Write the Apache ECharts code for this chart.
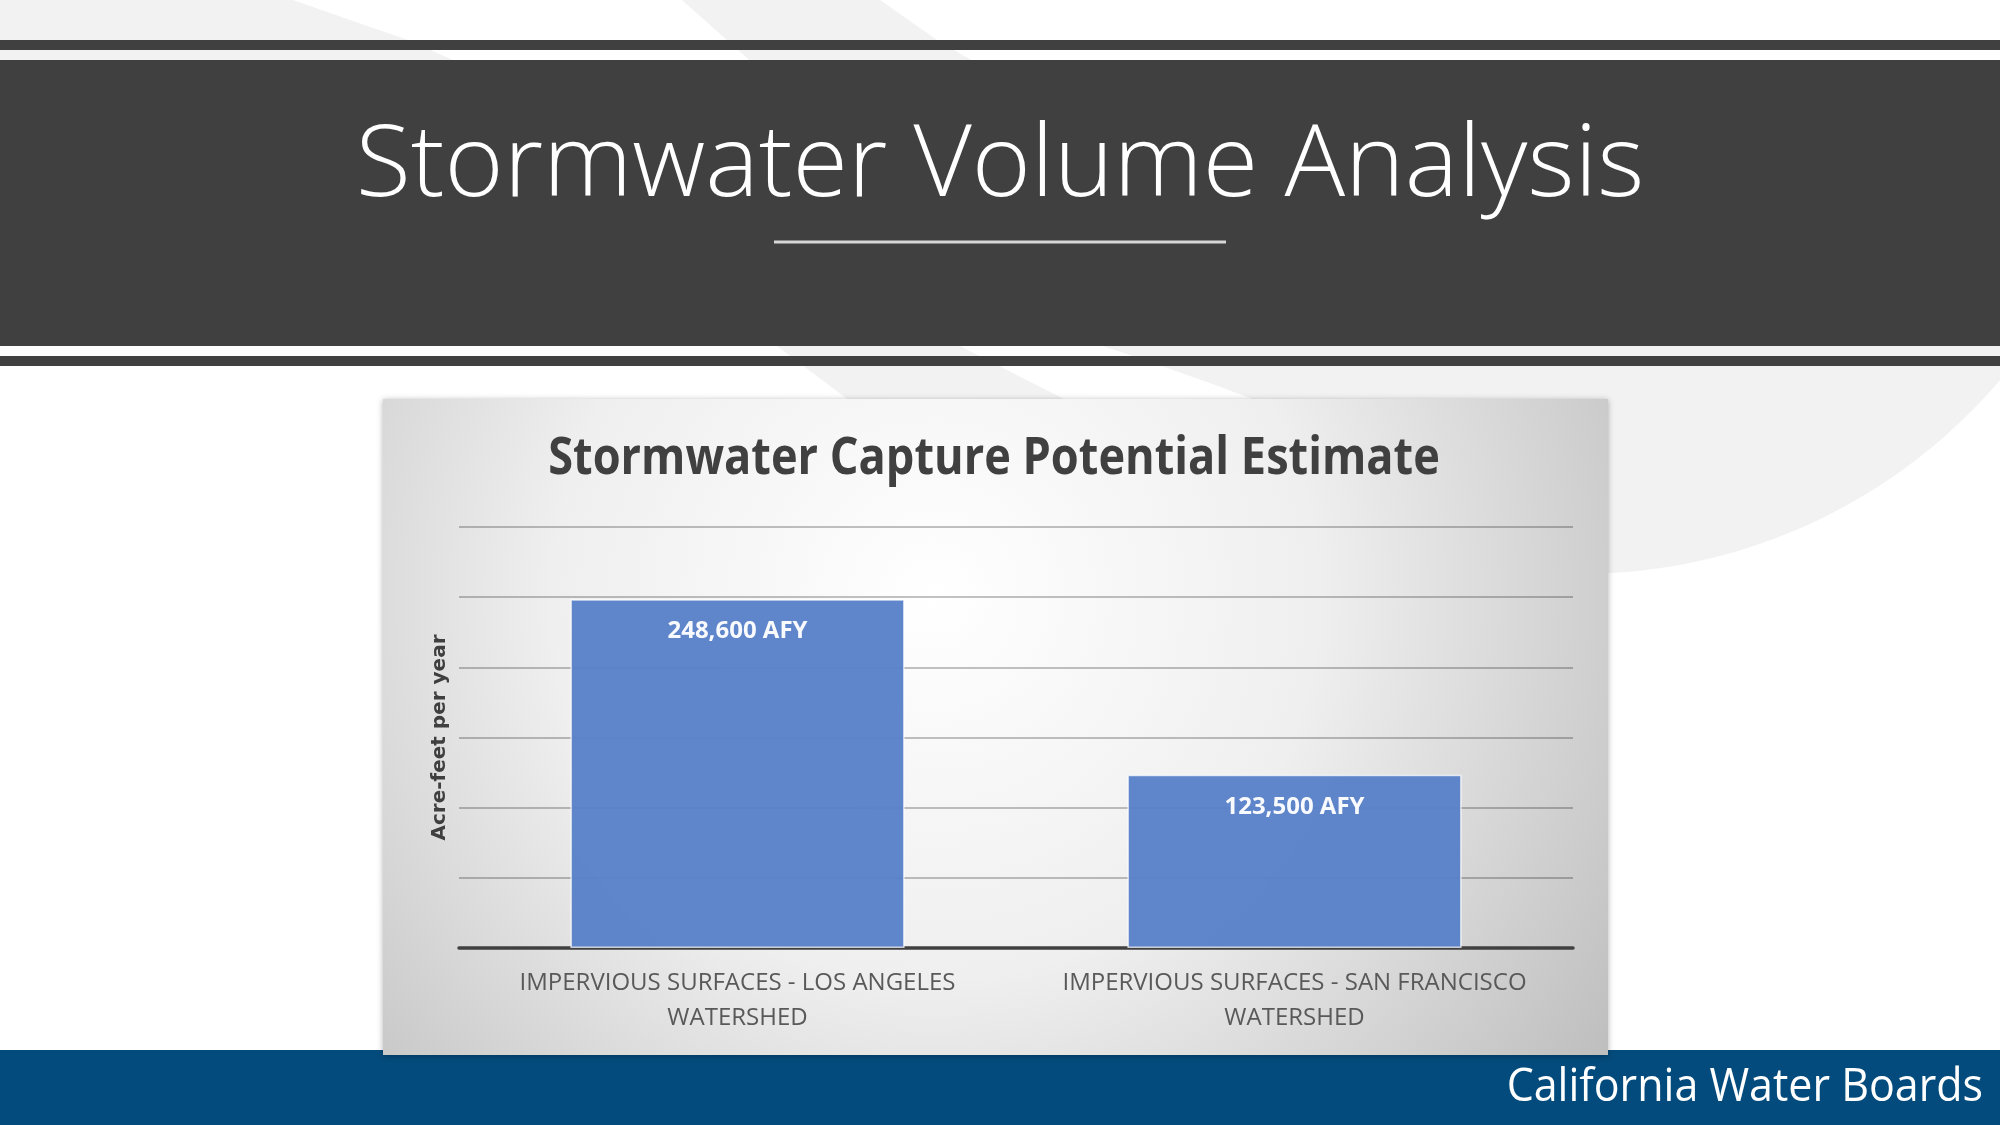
<!DOCTYPE html>
<html>
<head>
<meta charset="utf-8">
<script src="https://cdn.jsdelivr.net/npm/echarts@6/dist/echarts.min.js"></script>
<style>
  html, body { margin: 0; padding: 0; background: #ffffff; }
  #chart { width: 2000px; height: 1125px; }
</style>
</head>
<body>
<div id="chart"></div>
<script>
// ---- data ----
const slideTitle = 'Stormwater Volume Analysis';
const chartTitle = 'Stormwater Capture Potential Estimate';
const footerText = 'California Water Boards';
const yAxisName = 'Acre-feet per year';
const categories = [
  'IMPERVIOUS SURFACES - LOS ANGELES\nWATERSHED',
  'IMPERVIOUS SURFACES - SAN FRANCISCO\nWATERSHED'
];
const capturePotential = [248600, 123500];
const valueUnit = 'AFY';
const yMin = 0;
const yMax = 300000;
const yInterval = 50000;

const chart = echarts.init(document.getElementById('chart'), null, { renderer: 'canvas' });

const decorGray = '#f2f2f2';
const bandColor = '#404040';

// background crescent outline (decoration only): quadratic inner edge + circular outer edge
function crescentPoints() {
  const pts = [];
  const p0 = [1085, 340], c = [1480, 470], p2 = [1580, 574];
  for (let i = 0; i <= 30; i++) {
    const t = i / 30, u = 1 - t;
    pts.push([u * u * p0[0] + 2 * u * t * c[0] + t * t * p2[0],
              u * u * p0[1] + 2 * u * t * c[1] + t * t * p2[1]]);
  }
  const cx = 1580, cy = 22, r = 552;
  const a0 = Math.PI / 2, a1 = Math.atan2(340 - cy, 2031 - cx);
  for (let i = 1; i <= 40; i++) {
    const a = a0 + (a1 - a0) * i / 40;
    pts.push([cx + r * Math.cos(a), cy + r * Math.sin(a)]);
  }
  return pts;
}

const option = {
  backgroundColor: '#ffffff',
  animation: false,
  grid: { left: 459, right: 427, top: 527, bottom: 177, containLabel: false },
  xAxis: {
    type: 'category',
    data: categories,
    axisLine: { show: true, lineStyle: { color: '#404040', width: 3.5 } },
    axisTick: { show: false },
    axisLabel: {
      color: '#595959',
      fontFamily: 'Open Sans',
      fontSize: 24,
      lineHeight: 35,
      margin: 18,
      interval: 0
    }
  },
  yAxis: {
    type: 'value',
    min: yMin,
    max: yMax,
    interval: yInterval,
    name: yAxisName,
    nameLocation: 'middle',
    nameGap: 9,
    nameTextStyle: {
      color: '#3f3f3f',
      fontFamily: 'DejaVu Sans',
      fontWeight: 'bold',
      fontSize: 20
    },
    axisLine: { show: false },
    axisTick: { show: false },
    axisLabel: { show: false },
    splitLine: { show: true, lineStyle: { color: 'rgba(0,0,0,0.24)', width: 2 } }
  },
  series: [{
    type: 'bar',
    data: capturePotential,
    barWidth: '60%',
    itemStyle: {
      color: '#5880c9',
      opacity: 0.96,
      borderColor: 'rgba(255,255,255,0.75)',
      borderWidth: 1.5
    },
    label: {
      show: true,
      position: 'insideTop',
      distance: 20,
      color: '#ffffff',
      fontFamily: 'Open Sans',
      fontWeight: 'bold',
      fontSize: 24,
      formatter: p => p.value.toLocaleString('en-US') + ' ' + valueUnit
    }
  }],
  graphic: [
    // background swooshes
    { type: 'polygon', z: -30, silent: true,
      shape: { points: [[0,0],[293,0],[350,20],[408,40],[462,64],[0,64]] },
      style: { fill: decorGray } },
    { type: 'polygon', z: -30, silent: true,
      shape: { points: [[682,0],[880,0],[937,40],[978,64],[754,64],[727,40]] },
      style: { fill: decorGray } },
    { type: 'polygon', z: -30, silent: true,
      shape: { points: [[769,340],[948,340],[999,366],[1062,398],[1080,410],[862,410]] },
      style: { fill: decorGray } },
    { type: 'polygon', z: -30, silent: true,
      shape: { points: crescentPoints() },
      style: { fill: decorGray } },
    // dark header band with stripes
    { type: 'rect', z: -20, silent: true, shape: { x: 0, y: 40, width: 2000, height: 10 }, style: { fill: bandColor } },
    { type: 'rect', z: -20, silent: true, shape: { x: 0, y: 60, width: 2000, height: 286 }, style: { fill: bandColor } },
    { type: 'rect', z: -20, silent: true, shape: { x: 0, y: 356, width: 2000, height: 10 }, style: { fill: bandColor } },
    { type: 'line', z: -19, silent: true, shape: { x1: 774, y1: 242, x2: 1226, y2: 242 },
      style: { stroke: '#d6d6d6', lineWidth: 3 } },
    { type: 'text', z: 10, silent: true, x: 1000, y: 168, scaleX: 1.01,
      style: { text: slideTitle, x: 0, y: 0, fill: '#ffffff', font: '300 100px "Open Sans"',
               textAlign: 'center', textVerticalAlign: 'middle' } },
    // footer (under the chart frame)
    { type: 'rect', z: -12, silent: true, shape: { x: 0, y: 1050, width: 2000, height: 75 }, style: { fill: '#034b7c' } },
    // chart frame
    { type: 'rect', z: -10, silent: true,
      shape: { x: 383, y: 399, width: 1225, height: 656 },
      style: {
        fill: new echarts.graphic.RadialGradient(0.45, 0.3, 1.3, [
          { offset: 0, color: '#ffffff' },
          { offset: 0.45, color: '#efefef' },
          { offset: 1, color: '#bababa' }
        ]),
        shadowBlur: 6, shadowColor: 'rgba(0,0,0,0.3)', shadowOffsetY: 1
      } },
    { type: 'text', z: 10, silent: true, x: 994, y: 459, scaleX: 0.868,
      style: { text: chartTitle, x: 0, y: 0, fill: '#404040', font: 'bold 52px "Open Sans"',
               textAlign: 'center', textVerticalAlign: 'middle' } },
    { type: 'text', z: 21, silent: true, x: 1983, y: 1088, scaleX: 0.955,
      style: { text: footerText, x: 0, y: 0, fill: '#ffffff', font: '45px "Open Sans"',
               textAlign: 'right', textVerticalAlign: 'middle' } }
  ]
};

chart.setOption(option);
</script>
</body>
</html>
